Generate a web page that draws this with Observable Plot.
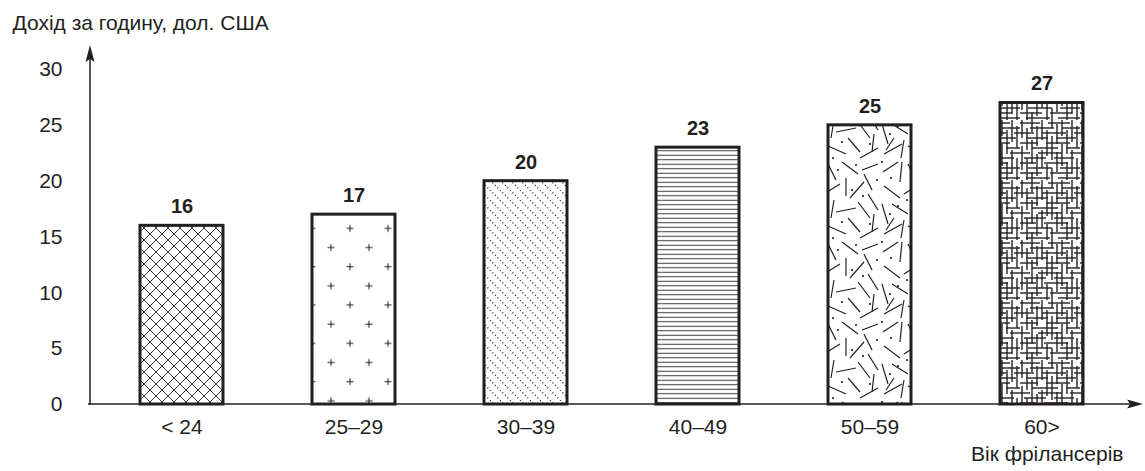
<!DOCTYPE html>
<html><head><meta charset="utf-8">
<script src="https://cdn.jsdelivr.net/npm/d3@7"></script>
<script src="https://cdn.jsdelivr.net/npm/@observablehq/plot@0.6"></script>
<style>body{margin:0;background:#fff}</style>
</head><body><div id="chart"></div>
<script>
const ages = ["< 24", "25–29", "30–39", "40–49", "50–59", "60>"];
const income = [16, 17, 20, 23, 25, 27];
const yTicks = [0, 5, 10, 15, 20, 25, 30];
const yTitle = "Дохід за годину, дол. США";
const xTitle = "Вік фрілансерів";

const data = ages.map((a, i) => ({age: a, income: income[i], pat: `url(#pat${i})`}));
const ink = "#231f20";
const fs = 21;

const chart = Plot.plot({
  width: 1145, height: 471,
  marginLeft: 90, marginRight: 13, marginTop: 69, marginBottom: 67,
  style: {fontFamily: "'Liberation Sans', Arial, sans-serif", fontSize: fs + "px", color: ink, background: "#fff"},
  x: {domain: ages, paddingInner: 0.52, paddingOuter: 0.273},
  y: {domain: [0, 30]},
  color: {type: "identity"},
  marks: [
    Plot.barY(data, {x: "age", y: "income", fill: "pat", stroke: ink, strokeWidth: 3}),
    Plot.text(data, {x: "age", y: "income", text: d => String(d.income), fontWeight: "bold", fontSize: 20, lineAnchor: "middle", dy: -19, fill: ink}),
    Plot.axisY(yTicks, {tickSize: 0, tickPadding: 28, fontSize: fs, label: null}),
    Plot.axisX({tickSize: 0, tickPadding: 15, fontSize: fs, label: null}),
    Plot.text([yTitle], {frameAnchor: "top-left", textAnchor: "start", lineAnchor: "top", dx: -78, dy: -54, fontSize: fs, fill: ink}),
    Plot.text([xTitle], {frameAnchor: "bottom-right", textAnchor: "end", lineAnchor: "top", dx: -9, dy: 42, fontSize: fs, fill: ink})
  ]
});

const svg = chart.tagName.toLowerCase() === "svg" ? chart : chart.querySelector("svg");
const s = d3.select(svg);
const xs = chart.scale("x"), ys = chart.scale("y");
const y0 = ys.apply(0), yTop = ys.apply(30);
const [left, right] = xs.range;

// patterns
const defs = s.insert("defs", ":first-child");
function pat(id, w, h, x = 0, y = 0) {
  const p = defs.append("pattern").attr("id", id).attr("patternUnits", "userSpaceOnUse")
    .attr("width", w).attr("height", h).attr("x", x).attr("y", y);
  p.append("rect").attr("width", w).attr("height", h).attr("fill", "#fff");
  return p;
}
function seg(p, a, b, c, d, sw, col = ink, dash = null) {
  const l = p.append("line").attr("x1", a).attr("y1", b).attr("x2", c).attr("y2", d)
    .attr("stroke", col).attr("stroke-width", sw);
  if (dash) l.attr("stroke-dasharray", dash);
}
// 0: crosshatch
{
  const p = pat("pat0", 12, 12);
  [[0,0,12,12],[0,12,12,0],[-12,0,0,12],[12,0,24,12],[-12,12,0,0],[12,24,24,12]].forEach(v => seg(p, ...v, 0.9));
}
// 1: pluses
{
  const w = 38, h = 38.33;
  const p = pat("pat1", w, h, xs.apply(ages[1]) - 9.5, y0 - 31.9);
  [[w/4, h/4], [3*w/4, 3*h/4]].forEach(([cx, cy]) => {
    seg(p, cx - 3.5, cy, cx + 3.5, cy, 1);
    seg(p, cx, cy - 3.5, cx, cy + 3.5, 1);
  });
}
// 2: dotted diagonals
{
  const p = pat("pat2", 10, 10);
  [[0,0,10,10],[-10,0,0,10],[10,0,20,10]].forEach(v => seg(p, ...v, 1.2, ink, "1 2.535"));
}
// 3: horizontal lines
{
  const p = pat("pat3", 10, 4.5);
  seg(p, 0, 2.25, 10, 2.25, 1, "#3a3a3a");
}
// 4: random strokes
{
  const p = pat("pat4", 80, 80);
  [[3,12,18,2],[22,2,20,22],[28,4,36,20],[42,2,58,14],[62,10,78,4],[64,14,72,30],
   [4,26,20,38],[24,34,40,24],[46,18,46,36],[50,38,64,22],[68,34,78,50],
   [2,44,8,64],[12,44,28,54],[34,40,31,58],[36,52,56,48],[58,42,70,58],[74,54,72,72],
   [4,74,22,64],[24,60,21,78],[28,66,46,74],[48,58,60,72],[60,78,78,68],[14,58,6,70]]
    .forEach(v => seg(p, ...v, 1.2));
  [[11,18],[38,10],[52,30],[18,46],[63,36],[10,54],[42,62],[70,64],[27,40],[56,5],[77,20],[2,2],[33,78]]
    .forEach(([cx, cy]) => p.append("circle").attr("cx", cx).attr("cy", cy).attr("r", 1.1).attr("fill", ink));
}
// 5: grid strokes
{
  const p = pat("pat5", 60, 60);
  const vert = [[2,[[0,18],[26,50]]],[7,[[8,30],[38,60]]],[12,[[0,12],[20,44],[52,60]]],[17,[[6,26],[34,56]]],
    [22,[[0,20],[30,48]]],[27,[[10,36],[44,60]]],[32,[[0,8],[16,40],[48,60]]],[37,[[4,24],[32,52]]],
    [42,[[0,16],[24,46]]],[47,[[10,34],[42,60]]],[52,[[0,22],[30,54]]],[57,[[6,28],[38,60]]]];
  const hor = [[3,[[0,20],[28,50]]],[8,[[10,34],[42,60]]],[13,[[0,14],[22,46],[54,60]]],[18,[[6,28],[36,56]]],
    [23,[[0,18],[26,50]]],[28,[[12,38],[46,60]]],[33,[[0,10],[18,42],[50,60]]],[38,[[4,26],[34,54]]],
    [43,[[0,16],[24,48]]],[48,[[8,32],[40,60]]],[53,[[0,22],[30,52]]],[58,[[6,30],[38,60]]]];
  vert.forEach(([x, ss]) => ss.forEach(([a, b]) => seg(p, x, a, x, b, 1.4)));
  hor.forEach(([y, ss]) => ss.forEach(([a, b]) => seg(p, a, y, b, y, 1.4)));
}

// axes with arrowheads
const ax = s.append("g");
ax.append("line").attr("x1", left - 2).attr("y1", y0).attr("x2", right - 2).attr("y2", y0)
  .attr("stroke", ink).attr("stroke-width", 1.5);
ax.append("path").attr("d", `M${right + 11},${y0} L${right - 5},${y0 - 4.5} L${right - 2},${y0} L${right - 5},${y0 + 4.5} Z`).attr("fill", ink);
ax.append("line").attr("x1", left).attr("y1", y0 + 1).attr("x2", left).attr("y2", yTop - 10)
  .attr("stroke", ink).attr("stroke-width", 1.5);
ax.append("path").attr("d", `M${left},${yTop - 24} L${left - 4.5},${yTop - 7} L${left},${yTop - 10} L${left + 4.5},${yTop - 7} Z`).attr("fill", ink);

document.getElementById("chart").appendChild(chart);
</script>
</body></html>
